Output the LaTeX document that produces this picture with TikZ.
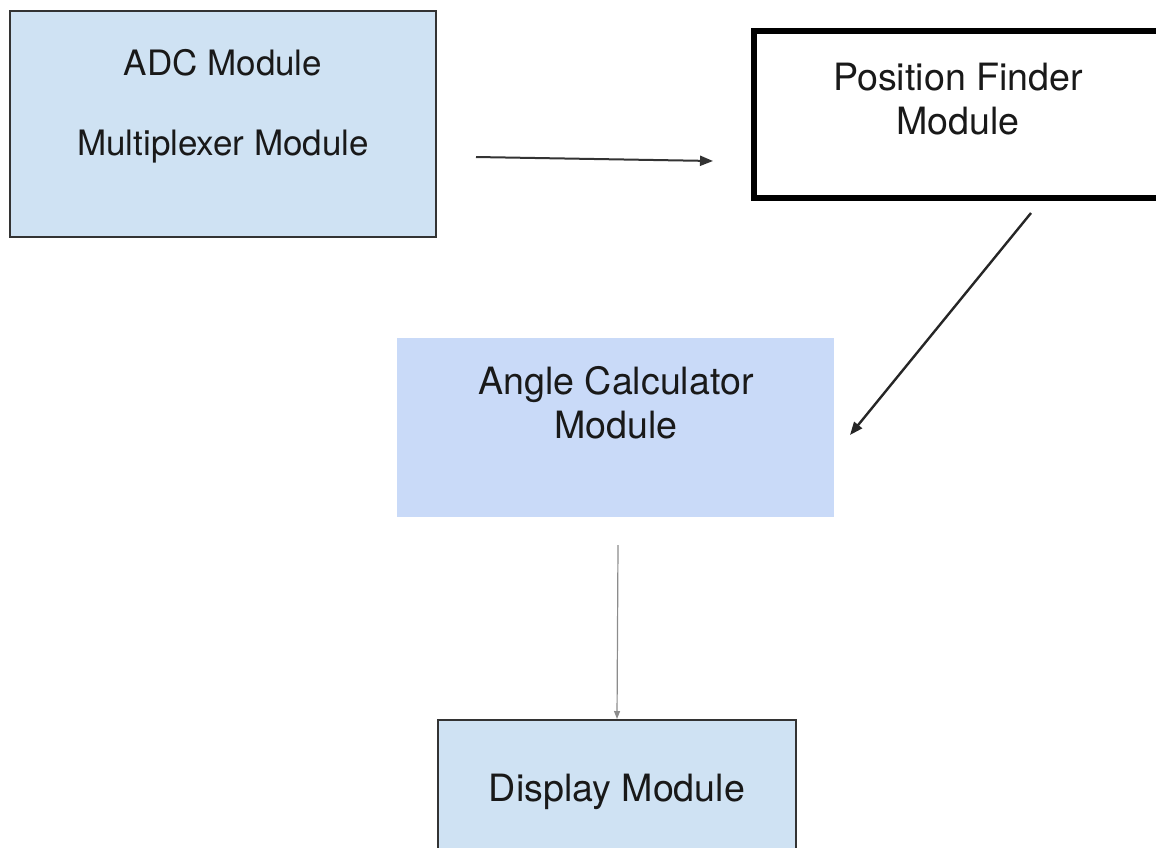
\documentclass[tikz,border=0pt]{standalone}
\usepackage{fontspec}
\setmainfont{TeX Gyre Heros}
\usetikzlibrary{arrows.meta}
\definecolor{lblue}{HTML}{CFE2F3}
\definecolor{cblue}{HTML}{C9DAF8}
\definecolor{edge}{HTML}{333333}
\begin{document}
\begin{tikzpicture}[x=0.5pt,y=-0.5pt,
  txt/.style={font=\fontsize{17.5pt}{22pt}\selectfont, text=black!90, align=center, inner sep=0pt},
  bigtxt/.style={txt, font=\fontsize{18.8pt}{22pt}\selectfont},
  conn/.style={-{Triangle[length=6.5pt,width=5pt]}},
  box/.style={draw=edge, line width=1pt, fill=lblue}]
\useasboundingbox (0,0) rectangle (1156,847);
\clip (0,0) rectangle (1156,847);
% boxes
\draw[box] (10,11) rectangle (436,237);
\node[txt] (adc) at (223,63) {ADC Module};
\node[txt] (mux) at (223,147) {Multiplexer Module};
\draw[draw=black, line width=3pt] (754,31) rectangle (1170,198);
\node[bigtxt] (pos) at (958,99) {Position Finder\\Module};
\fill[cblue] (397,338) rectangle (834,517);
\node[bigtxt] (ang) at (616,403) {Angle Calculator\\Module};
\draw[box] (438,720) rectangle (796,870);
\node[bigtxt] (disp) at (617,792) {Display Module};
% connector end points
\coordinate (a1) at (476,157);
\coordinate (a2) at (713,161);
\coordinate (b1) at (1031,213);
\coordinate (b2) at (850,435);
\coordinate (c1) at (618,545);
\coordinate (c2) at (617,719);
\draw[conn, line width=1pt, draw=black!80] (a1) -- (a2);
\draw[conn, line width=1.2pt, draw=black!85] (b1) -- (b2);
\draw[-{Triangle[length=4pt,width=3pt]}, line width=0.6pt, draw=black!45] (c1) -- (c2);
\end{tikzpicture}
\end{document}
